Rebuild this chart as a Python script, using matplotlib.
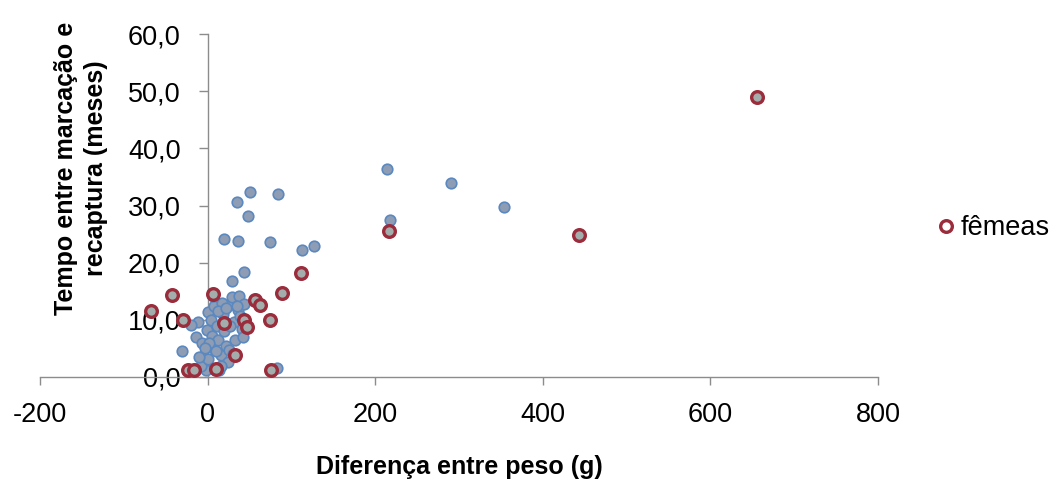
import matplotlib
matplotlib.use("Agg")
import matplotlib.pyplot as plt
from matplotlib.lines import Line2D

plt.rcParams['font.family'] = ['Liberation Sans', 'DejaVu Sans']

# Males (blue markers): weight difference (g) vs. months between marking and recapture
machos_x = [214, 291, 354, 218, 51, 35, 84, 48, 20, 36, 75, 113, 127, 44, 29, 83,
            -31, -14, -12, -7, -5, -4, -2, -1, 1, 4, 5, 7, 8, 11, 13, 15.5, 18, 20,
            21.5, 24, 26, 29, 31, 33, 36, 37, 40.5, 43, 39, 25, 6, 14, -8, 1, -20,
            2, 10, 17, 27, 12, -3, 22, 30, 35, 16, 42, -10]
machos_y = [36.4, 33.9, 29.7, 27.4, 32.3, 30.6, 32.0, 28.1, 24.1, 23.8, 23.6, 22.2,
            22.9, 18.4, 16.8, 1.6,
            4.5, 7.0, 9.6, 5.9, 3.7, 2.3, 1.2, 8.2, 11.4, 10.0, 7.2, 5.1, 12.4, 8.9,
            6.5, 3.8, 11.0, 8.0, 5.4, 2.6, 12.6, 14.0, 9.6, 6.5, 11.7, 14.2, 8.4,
            12.8, 10.7, 4.7, 14.2, 1.2, 1.9, 3.1, 9.1,
            6.0, 4.5, 13.0, 9.0, 11.5, 5.0, 12.0, 4.0, 12.5, 2.0, 7.0, 3.5]

# Females (red rings)
femeas_x = [656, 216, 443, 112, -43, 7, 89, 57, 63, -68, -29, 19, 44, 47, 75, 33,
            -23, -16, 10, 76]
femeas_y = [48.9, 25.5, 24.8, 18.2, 14.3, 14.5, 14.7, 13.5, 12.6, 11.6, 10.0, 9.4,
            10.0, 8.8, 10.0, 3.8, 1.3, 1.3, 1.4, 1.3]

x_ticks = [-200, 0, 200, 400, 600, 800]
y_ticks = [0, 10, 20, 30, 40, 50, 60]
y_tick_labels = [f"{v:.1f}".replace('.', ',') for v in y_ticks]

W, H = 1056, 483
fig = plt.figure(figsize=(W / 100, H / 100), dpi=100)
fig.patch.set_facecolor('white')
ax = fig.add_axes([40 / W, (H - 377) / H, 838 / W, 343 / H])
ax.set_facecolor('none')
ax.set_axisbelow(True)

ax.plot(machos_x, machos_y, linestyle='none', marker='o', markersize=7.6,
        markerfacecolor='#8E9DB3', markeredgecolor='#5A88C0', markeredgewidth=1.2,
        zorder=3, clip_on=False, label='_nolegend_')
ax.plot(femeas_x, femeas_y, linestyle='none', marker='o', markersize=8.4,
        markerfacecolor='#A3AEAC', markeredgecolor='#9B2C3C', markeredgewidth=2.4,
        zorder=4, clip_on=False, label='fêmeas')

ax.set_xlim(-200, 800)
ax.set_ylim(0, 60)

axis_col = '#8C8C8C'
for side in ('top', 'right'):
    ax.spines[side].set_visible(False)
ax.spines['left'].set_position(('data', 0))
ax.spines['bottom'].set_position(('data', 0))
for side in ('left', 'bottom'):
    ax.spines[side].set_color(axis_col)
    ax.spines[side].set_linewidth(1.0)

ax.set_xticks(x_ticks)
ax.set_xticklabels([str(v) for v in x_ticks])
ax.set_yticks(y_ticks)
ax.set_yticklabels(y_tick_labels)
ax.tick_params(axis='x', direction='out', length=5.8, width=1.0, color=axis_col,
               labelsize=19.5, pad=12, labelcolor='black')
ax.tick_params(axis='y', direction='out', length=6.5, width=1.0, color=axis_col,
               labelsize=19.5, pad=13, labelcolor='black')

fig.text(81 / W, 1 - 168 / H, 'Tempo entre marcação e\nrecaptura (meses)',
         rotation=90, ha='center', va='center', multialignment='center',
         fontsize=18, fontweight='bold', linespacing=1.3)
fig.text(459 / W, 1 - 467 / H, 'Diferença entre peso (g)', ha='center', va='center',
         fontsize=18, fontweight='bold')

handle = Line2D([], [], linestyle='none', marker='o', markersize=8.4,
                markerfacecolor='white', markeredgecolor='#9B2C3C', markeredgewidth=2.4)
fig.legend([handle], ['fêmeas'], loc='center left',
           bbox_to_anchor=(938 / W, 1 - 228 / H), frameon=False, fontsize=19.5,
           handlelength=0.6, handletextpad=0.25, borderaxespad=0, borderpad=0)

fig.savefig('out.png', dpi=100, facecolor='white')
